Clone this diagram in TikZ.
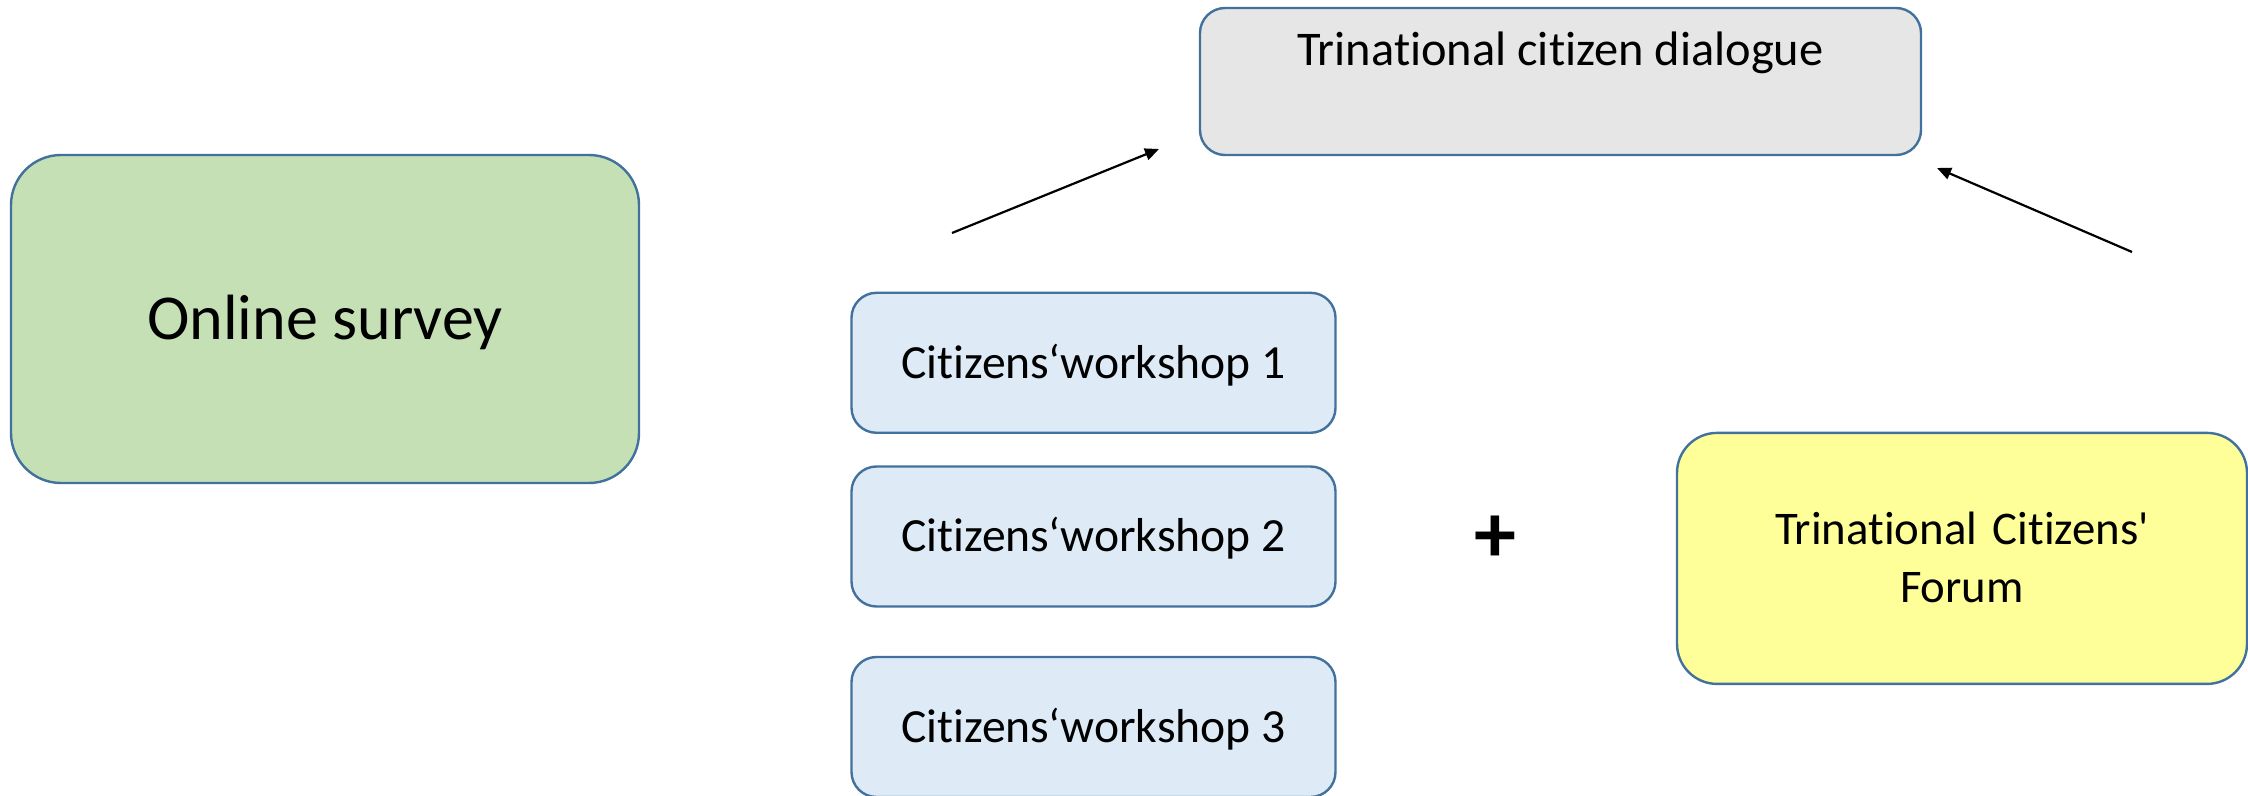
\documentclass[tikz,border=0pt]{standalone}
\usepackage{fontspec}
\setmainfont{Carlito}[Ligatures={NoCommon}, RawFeature={-liga;-clig;-calt;-dlig}]
\usetikzlibrary{arrows.meta,calc}
\definecolor{bord}{HTML}{41719C}
\definecolor{fgreen}{HTML}{C5E0B4}
\definecolor{fgray}{HTML}{E6E6E6}
\definecolor{fblue}{HTML}{DEEBF7}
\definecolor{fyellow}{HTML}{FFFF99}
\tikzset{
  box/.style={draw=bord, line width=1.2pt, rectangle, inner sep=0pt, align=center},
  wsbox/.style={box, fill=fblue, minimum width=242pt, minimum height=70pt, rounded corners=12.5pt,
    font=\fontsize{23.8}{28}\selectfont, text height=15.3pt, text depth=0pt},
  conn/.style={line width=1.1pt, -{Triangle[length=7pt,width=6pt]}}
}
\begin{document}
\begin{tikzpicture}[x=0.5pt,y=-0.5pt]
\useasboundingbox (0,0) rectangle (2248,796);
\node[box, fill=fgreen, minimum width=314pt, minimum height=164pt, rounded corners=25pt,
  font=\fontsize{32}{38}\selectfont, text height=20.5pt, text depth=0pt] (survey) at (325,319) {Online survey};
\node[box, fill=fgray, minimum width=360.5pt, minimum height=73.5pt, rounded corners=12.5pt] (dial) at (1560.5,81.5) {};
\node[anchor=base, inner sep=0pt, font=\fontsize{24.2}{29}\selectfont] (dialtext) at (1560.5,66) {Trinational citizen dialogue};
\node[wsbox] (ws1) at (1093.5,362.8) {Citizens‘workshop 1};
\node[wsbox] (ws2) at (1093.5,536.5) {Citizens‘workshop 2};
\node[wsbox] (ws3) at (1093.5,727) {Citizens‘workshop 3};
\node[inner sep=0pt, font=\bfseries\fontsize{42}{50}\selectfont] (plus) at (1495,539) {+};
\node[box, fill=fyellow, minimum width=285pt, minimum height=125.5pt, rounded corners=20pt,
  font=\fontsize{23.4}{29}\selectfont, text width=270pt, text height=15pt, text depth=29pt] (forum) at (1962,558.4) {Trinational Citizens\textquotesingle\\Forum};
\coordinate (a1s) at (952,233);
\coordinate (a1e) at (1159,149);
\coordinate (a2s) at (2132,252);
\coordinate (a2e) at (1937,168);
\draw[conn] (a1s) -- (a1e);
\draw[conn] (a2s) -- (a2e);
\end{tikzpicture}
\end{document}
